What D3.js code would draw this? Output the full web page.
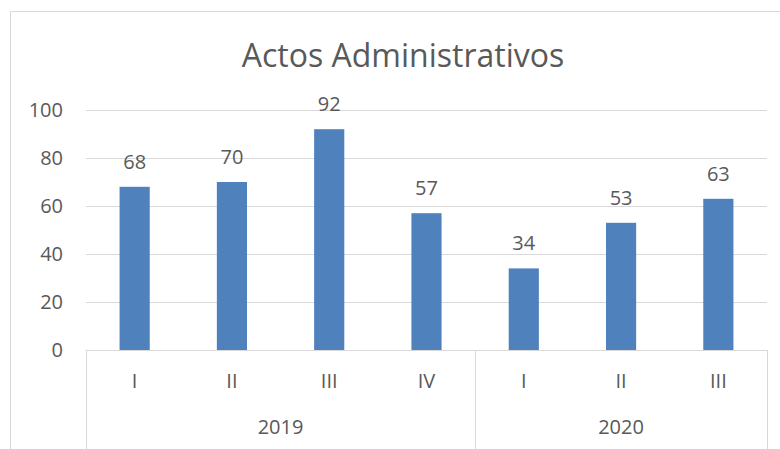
<!DOCTYPE html>
<html>
<head>
<meta charset="utf-8">
<script src="https://cdn.jsdelivr.net/npm/d3@7"></script>
<style>
  body { margin: 0; background: #fff; }
  text { font-family: "Open Sans", Lato, sans-serif; fill: #595959; }
</style>
</head>
<body>
<div id="chart"></div>
<script>
const quarters = ['I', 'II', 'III', 'IV', 'I', 'II', 'III'];
const years = ['2019', '2019', '2019', '2019', '2020', '2020', '2020'];
const values = [68, 70, 92, 57, 34, 53, 63];
const yTicks = [0, 20, 40, 60, 80, 100];

const width = 780;
const height = 449;
const margin = { top: 110, bottom: 99, left: 86, right: 13 };

const svg = d3.select('#chart')
    .append('svg')
    .attr('width', width)
    .attr('height', height);

// chart border
svg.append('rect')
    .attr('x', 10.5).attr('y', 11.5)
    .attr('width', width - 10).attr('height', height)
    .attr('fill', 'none')
    .attr('stroke', '#d9d9d9');

const x = d3.scaleBand()
    .domain(d3.range(values.length))
    .range([margin.left, width - margin.right])
    .paddingInner(0.69)
    .paddingOuter(0.345);

const y = d3.scaleLinear()
    .domain([0, 100])
    .range([height - margin.bottom, margin.top]);

// gridlines
svg.append('g')
    .selectAll('line')
    .data(yTicks)
    .join('line')
        .attr('x1', margin.left)
        .attr('x2', width - margin.right)
        .attr('y1', d => Math.round(y(d)) + 0.5)
        .attr('y2', d => Math.round(y(d)) + 0.5)
        .attr('stroke', '#d9d9d9');

// y tick labels
svg.append('g')
    .selectAll('text')
    .data(yTicks)
    .join('text')
        .attr('x', 63)
        .attr('y', d => y(d))
        .attr('dy', '0.35em')
        .attr('text-anchor', 'end')
        .attr('font-size', '20px')
        .text(d => d);

// bars
svg.append('g')
    .attr('fill', '#4f81bd')
    .selectAll('rect')
    .data(values)
    .join('rect')
        .attr('x', (d, i) => x(i))
        .attr('y', d => y(d))
        .attr('width', x.bandwidth())
        .attr('height', d => y(0) - y(d));

// value labels
svg.append('g')
    .selectAll('text')
    .data(values)
    .join('text')
        .attr('x', (d, i) => x(i) + x.bandwidth() / 2)
        .attr('y', d => y(d) - 18)
        .attr('text-anchor', 'middle')
        .attr('font-size', '20px')
        .attr('fill', '#404040')
        .text(d => d);

// category axis: quarter labels
const step = x.step();
const bandStart = i => margin.left + step * i;
svg.append('g')
    .selectAll('text')
    .data(quarters)
    .join('text')
        .attr('x', (d, i) => x(i) + x.bandwidth() / 2)
        .attr('y', 388)
        .attr('text-anchor', 'middle')
        .attr('font-size', '20px')
        .text(d => d);

// year groups
const groups = d3.groups(d3.range(years.length), i => years[i]);
const bounds = [margin.left];
groups.forEach(([, idx]) => bounds.push(bandStart(idx[idx.length - 1] + 1)));

svg.append('g')
    .selectAll('line')
    .data(bounds)
    .join('line')
        .attr('x1', d => Math.round(d) + 0.5)
        .attr('x2', d => Math.round(d) + 0.5)
        .attr('y1', y(0))
        .attr('y2', height)
        .attr('stroke', '#d9d9d9');

svg.append('g')
    .selectAll('text')
    .data(groups)
    .join('text')
        .attr('x', ([, idx]) => (bandStart(idx[0]) + bandStart(idx[idx.length - 1] + 1)) / 2)
        .attr('y', 434)
        .attr('text-anchor', 'middle')
        .attr('font-size', '20px')
        .text(([k]) => k);

// title
svg.append('text')
    .attr('x', 403)
    .attr('y', 67)
    .attr('text-anchor', 'middle')
    .attr('font-size', '32px')
    .text('Actos Administrativos');
</script>
</body>
</html>
